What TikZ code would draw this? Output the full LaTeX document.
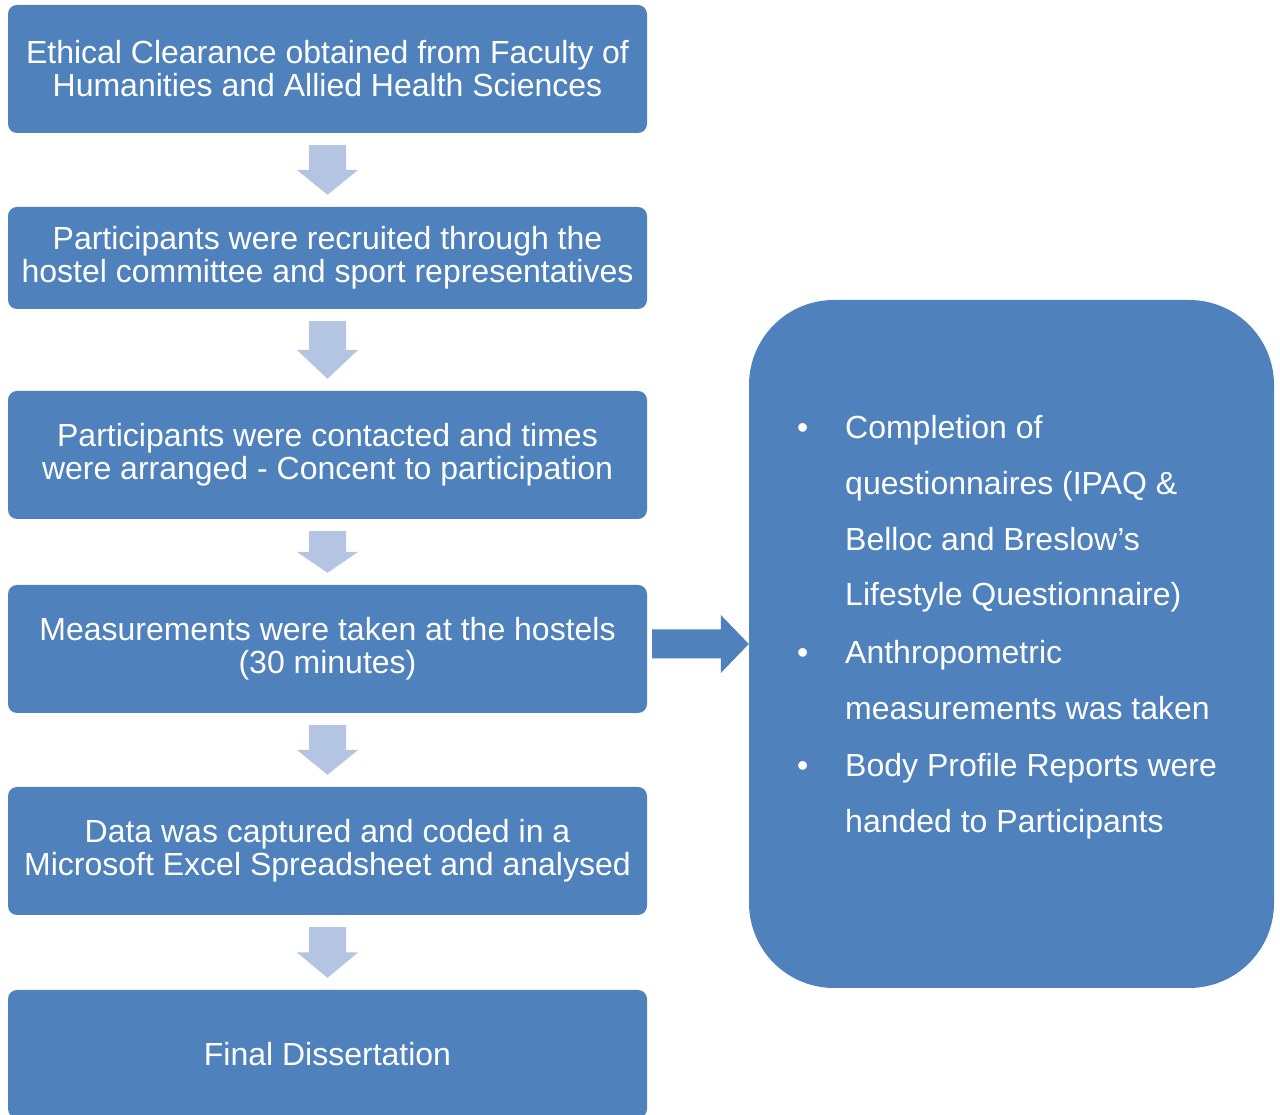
\documentclass[tikz,border=0pt]{standalone}
\usepackage{fontspec}
\setmainfont{Liberation Sans}
\usetikzlibrary{calc}
\definecolor{boxblue}{RGB}{79,129,189}
\definecolor{paleblue}{RGB}{180,197,227}

\tikzset{
  stage/.style={fill=boxblue, rounded corners=9pt, minimum width=639pt, minimum height=128pt,
    inner sep=0pt, text=white, align=center, font=\fontsize{32}{33}\selectfont},
  downarrow/.style={fill=paleblue},
  sidearrow/.style={fill=boxblue}
}

% block arrow in the gap between two stages
\newcommand{\flowarrow}[2]{%
  \fill[downarrow] let \p1=(#1.south), \p2=(#2.north), \n1={(\y1-\y2)/2} in
    (\x1-18.5pt,\y1-12pt) -- (\x1+18.5pt,\y1-12pt) -- (\x1+18.5pt,\y1-\n1)
    -- (\x1+30.5pt,\y1-\n1) -- (\x1,\y2+12pt) -- (\x1-30.5pt,\y1-\n1)
    -- (\x1-18.5pt,\y1-\n1) -- cycle;
}

\begin{document}
\begin{tikzpicture}[x=1pt, y=1pt]
    \useasboundingbox (0,0) rectangle (1280,1115);

    \node[stage] (ethics) at (327.5,1046) {Ethical Clearance obtained from Faculty of\\Humanities and Allied Health Sciences};
    \node[stage, minimum height=102pt] (recruit) at (327.5,857) {Participants were recruited through the\\hostel committee and sport representatives};
    \node[stage] (contact) at (327.5,660) {Participants were contacted and times\\were arranged - Concent to participation};
    \node[stage] (measure) at (327.5,466) {Measurements were taken at the hostels\\(30 minutes)};
    \node[stage] (data) at (327.5,264) {Data was captured and coded in a\\Microsoft Excel Spreadsheet and analysed};
    \node[stage] (final) at (327.5,61) {Final Dissertation};

    \node[fill=boxblue, rounded corners=85pt, minimum width=525pt, minimum height=688pt] (notes) at (1011.5,471) {};
    \node[anchor=north west, inner sep=0pt, text=white, font=\fontsize{32}{55.7}\selectfont] (list) at (797,715.5) {%
      \begin{tabular}{@{}p{48pt}@{}l@{}}
        \textbullet & Completion of\\
                    & questionnaires (IPAQ \&\\
                    & Belloc and Breslow’s\\
                    & Lifestyle Questionnaire)\\[2.3pt]
        \textbullet & Anthropometric\\
                    & measurements was taken\\[1.3pt]
        \textbullet & Body Profile Reports were\\
                    & handed to Participants
      \end{tabular}};

    \flowarrow{ethics}{recruit}
    \flowarrow{recruit}{contact}
    \flowarrow{contact}{measure}
    \flowarrow{measure}{data}
    \flowarrow{data}{final}

    \fill[sidearrow] let \p1=(measure.east), \p2=(notes.west) in
      (\x1+5pt,\y2+14.5pt) -- (\x2-28pt,\y2+14.5pt) -- (\x2-28pt,\y2+29pt) -- (\x2,\y2)
      -- (\x2-28pt,\y2-29pt) -- (\x2-28pt,\y2-14.5pt) -- (\x1+5pt,\y2-14.5pt) -- cycle;
\end{tikzpicture}
\end{document}
